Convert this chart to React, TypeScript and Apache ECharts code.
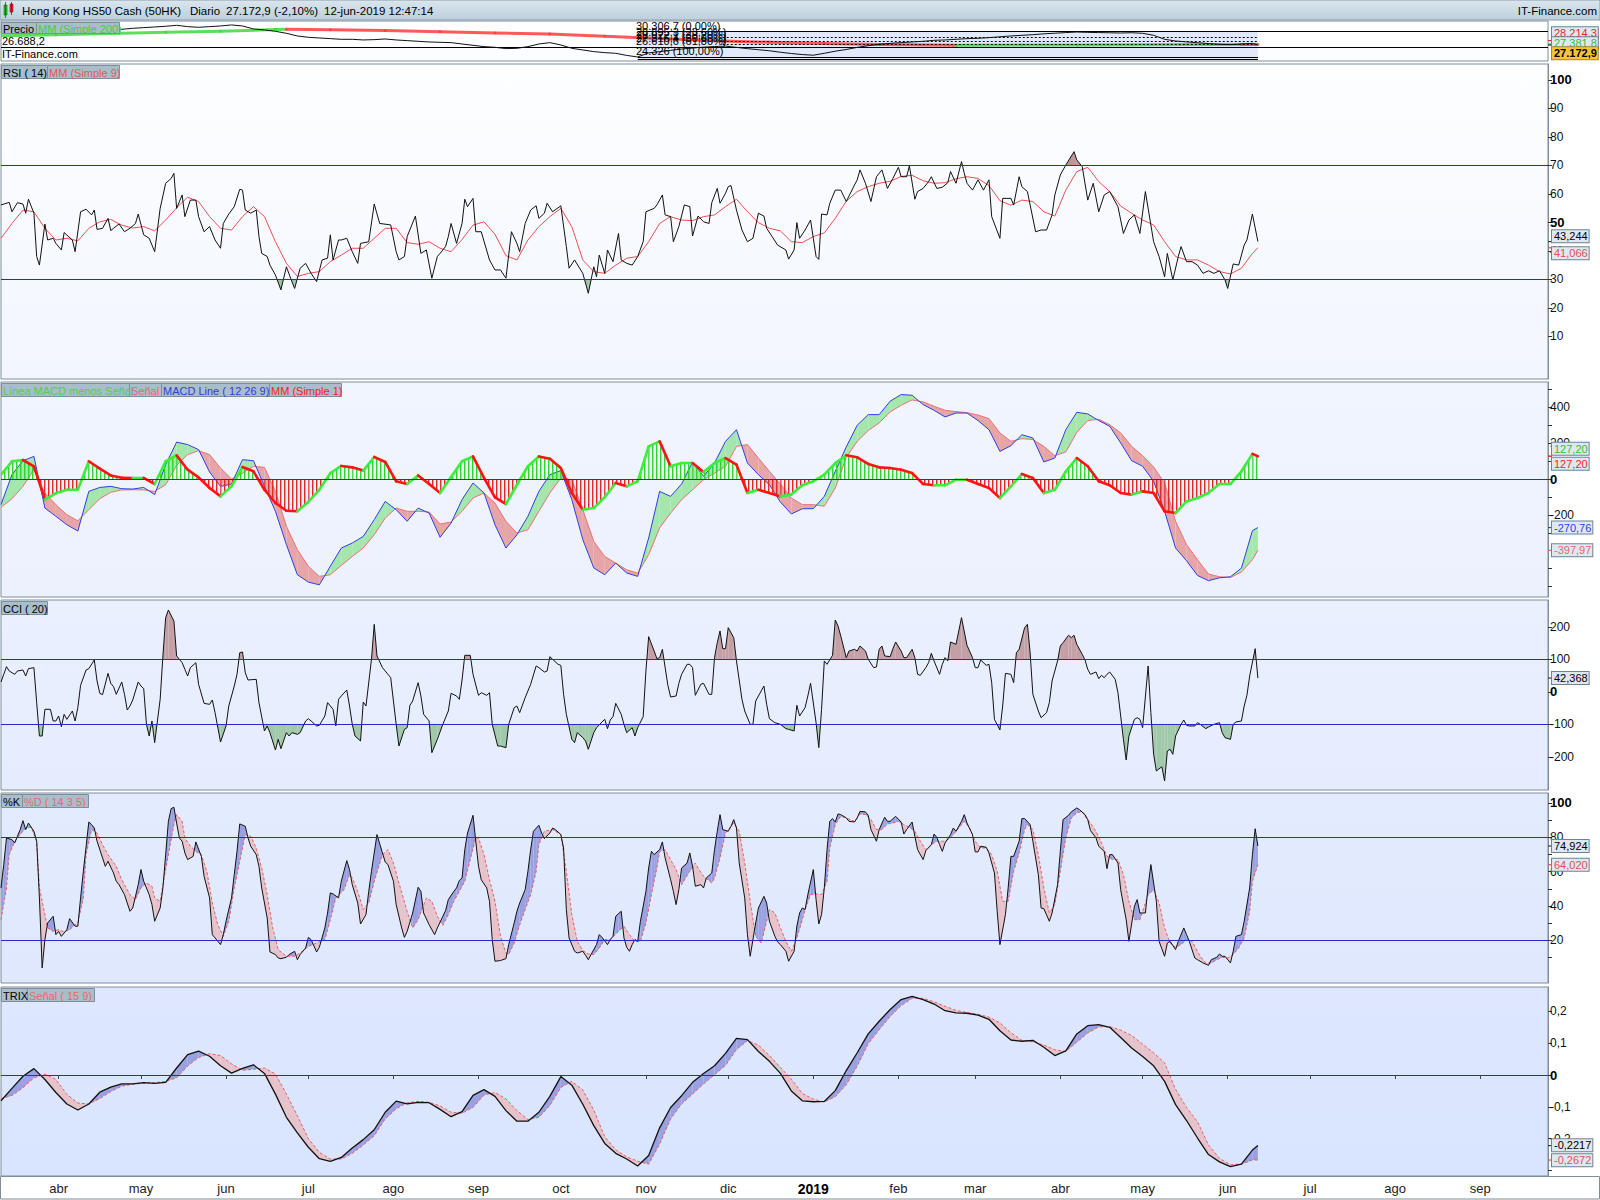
import React, { useEffect, useRef } from 'react';
import * as echarts from 'echarts';

const FONT = '"Liberation Sans", Arial, Helvetica, sans-serif';
const DAY = 86400000;

// ---------- sampling dates (every 4 calendar days, plus the last session) ----------
const dates: string[] = [
  '2018-03-11','2018-03-15','2018-03-19','2018-03-23','2018-03-27','2018-03-31','2018-04-04','2018-04-08','2018-04-12','2018-04-16',
  '2018-04-20','2018-04-24','2018-04-28','2018-05-02','2018-05-06','2018-05-10','2018-05-14','2018-05-18','2018-05-22','2018-05-26',
  '2018-05-30','2018-06-03','2018-06-07','2018-06-11','2018-06-15','2018-06-19','2018-06-23','2018-06-27','2018-07-01','2018-07-05',
  '2018-07-09','2018-07-13','2018-07-17','2018-07-21','2018-07-25','2018-07-29','2018-08-02','2018-08-06','2018-08-10','2018-08-14',
  '2018-08-18','2018-08-22','2018-08-26','2018-08-30','2018-09-03','2018-09-07','2018-09-11','2018-09-15','2018-09-19','2018-09-23',
  '2018-09-27','2018-10-01','2018-10-05','2018-10-09','2018-10-13','2018-10-17','2018-10-21','2018-10-25','2018-10-29','2018-11-02',
  '2018-11-06','2018-11-10','2018-11-14','2018-11-18','2018-11-22','2018-11-26','2018-11-30','2018-12-04','2018-12-08','2018-12-12',
  '2018-12-16','2018-12-20','2018-12-24','2018-12-28','2019-01-01','2019-01-05','2019-01-09','2019-01-13','2019-01-17','2019-01-21',
  '2019-01-25','2019-01-29','2019-02-02','2019-02-06','2019-02-10','2019-02-14','2019-02-18','2019-02-22','2019-02-26','2019-03-02',
  '2019-03-06','2019-03-10','2019-03-14','2019-03-18','2019-03-22','2019-03-26','2019-03-30','2019-04-03','2019-04-07','2019-04-11',
  '2019-04-15','2019-04-19','2019-04-23','2019-04-27','2019-05-01','2019-05-05','2019-05-09','2019-05-13','2019-05-17','2019-05-21',
  '2019-05-25','2019-05-29','2019-06-02','2019-06-06','2019-06-10','2019-06-12',
];
const START = '2018-03-11'; // day 0 of the finer [day, value] readings below

const price = [
  31110, 30874, 31347, 30637, 30480, 30874, 31032, 30874, 31347, 31190,
  31032, 30874, 31110, 31268, 31426, 31584, 31820, 31505, 31347, 31505,
  31663, 31899, 31663, 30953, 30716, 30401, 29928, 29298, 28982, 28825,
  28667, 28509, 28509, 28352, 28431, 28588, 28352, 28194, 28036, 27879,
  27800, 27721, 27406, 27091, 26776, 26618, 26303, 26382, 26776, 27406,
  27721, 27170, 26382, 25988, 25594, 25357, 25200, 24700, 24326, 25300,
  25600, 25900, 26200, 26450, 26650, 26800, 26900, 26600, 26300, 26050,
  25800, 25450, 25150, 24900, 24750, 25200, 25700, 26100, 26600, 27000,
  27330, 27550, 27721, 27879, 28036, 28273, 28352, 28509, 28667, 28746,
  28900, 29100, 29300, 29450, 29600, 29800, 29950, 30100, 30230, 30150,
  30100, 30050, 30000, 30070, 29928, 29455, 28509, 28110, 27900, 27700,
  27500, 27327, 27249, 27406, 27560, 27172.9,
];

const maDates = [
  '2018-03-11','2018-03-31','2018-04-20','2018-05-10','2018-05-30','2018-06-19','2018-06-23','2018-07-09','2018-07-29','2018-08-18',
  '2018-09-07','2018-09-27','2018-10-17','2018-11-06','2018-11-26','2018-12-16','2019-01-05','2019-01-25','2019-02-22','2019-03-18',
  '2019-04-07','2019-04-27','2019-05-17','2019-06-06','2019-06-12',
];
const priceMA200 = [
  29350, 29610, 29880, 30190, 30440, 30800, 30870, 30780, 30570, 30320,
  30020, 29740, 29250, 28700, 28150, 27800, 27500, 27300, 27085, 27140,
  27190, 27240, 27266, 27276, 27262,
];

const fibStart = '2018-10-29';
const fibDotStart = '2018-11-29';
const fibLevels = [30306.7, 28895.3, 28022.1, 27316.4, 26610.6, 24326];
const fibTexts = ['30.306,7 (0,00%)', '28.895,3 (23,60%)', '28.022,1 (38,20%)', '27.316,4 (50,00%)', '26.610,6 (61,80%)', '24.326 (100,00%)'];
const fibBoxBottom = 23780;
const supportLevel = 26688.2;
const priceTagLevels = [28214.3, 27381.8];

// RSI(14): [days since START, value]
const rsiDaily: [number, number][] = [
  [0,56.1],[3,57.0],[4,53.7],[6,56.9],[8,56.4],[9,53.2],[10,58.1],[12,53.2],[13,38.0],[14,35.0],
  [16,49.4],[17,43.8],[19,44.4],[20,42.6],[22,40.3],[23,46.4],[26,43.8],[27,39.7],[29,53.7],[31,54.6],
  [33,52.6],[34,54.3],[35,47.5],[37,47.9],[39,51.4],[40,47.1],[41,47.9],[43,49.4],[45,46.7],[47,47.9],
  [49,49.6],[50,52.9],[52,45.6],[54,44.4],[56,39.7],[58,54.9],[60,63.7],[62,65.4],[63,67.2],[64,54.9],
  [66,59.6],[67,52],[69,57.8],[71,57.8],[72,52],[74,46.7],[76,48.5],[78,43.8],[80,40.9],[81,49.6],
  [83,52.9],[85,55.5],[87,61.6],[88,61.3],[89,54.3],[91,53.2],[93,54.3],[94,45],[95,39.1],[97,38],
  [98,35],[100,31.5],[102,26.3],[104,34.4],[106,29.2],[107,26.8],[109,33.9],[111,35.6],[113,32.1],[115,29.2],
  [117,36.8],[119,37.4],[120,45.6],[121,36.8],[123,43.8],[124,43.8],[126,44.4],[128,39.7],[130,35.6],[131,42.6],
  [134,43.2],[136,56.4],[138,49.6],[142,49.1],[144,39.7],[145,36.8],[147,38],[148,45],[151,52.2],[153,39.1],
  [155,40.3],[157,30.4],[159,38],[160,39.1],[162,41.5],[163,45],[164,49.6],[166,42.6],[168,49.6],[169,58.1],
  [170,55.5],[172,58.4],[173,46.7],[175,46.7],[178,36.8],[180,33.3],[182,33.3],[184,30.4],[186,46.7],[188,42.6],
  [189,39.7],[191,49.6],[193,54.3],[195,55.8],[196,51.4],[198,53.2],[199,56.7],[201,53.7],[204,55.8],[206,41.5],
  [207,33.9],[209,36.8],[212,32.1],[214,25.1],[216,34.4],[217,30.9],[218,38.5],[220,32.1],[221,40.3],[223,36.2],
  [225,46.1],[226,36.8],[228,35.6],[230,35],[232,38],[234,43.2],[235,53.7],[238,54.9],[239,56.1],[241,59.6],
  [242,52.6],[244,52],[245,43.2],[247,48.5],[249,56.1],[251,55.5],[252,45.2],[254,52.2],[256,50.2],[258,49.6],
  [259,56.9],[261,61.9],[262,56.7],[264,60.2],[265,62.5],[266,62.9],[268,54.3],[270,47.3],[272,43.2],[274,44.4],
  [276,53.2],[278,52.2],[279,47.9],[281,45],[283,42],[286,40.3],[287,37.1],[289,40.3],[290,49.9],[291,44.4],
  [293,47.3],[295,50.8],[296,44.4],[297,38],[298,37],[299,52.9],[301,52.6],[302,56.7],[304,61.3],[306,61.3],
  [308,57.3],[311,63.1],[312,64.9],[313,68.4],[315,63.7],[317,57.3],[319,66],[321,68.4],[323,61.9],[325,65.4],
  [327,69.3],[328,66],[330,66],[331,69.8],[333,58.1],[334,60.8],[336,61.9],[338,64.3],[339,66],[341,61.9],
  [343,62.3],[345,63.9],[346,67.8],[348,63.7],[350,71.3],[351,67.2],[352,63.7],[354,61.3],[356,64.9],[358,61.3],
  [360,64.9],[361,52],[364,44.4],[365,58.4],[368,58.4],[369,56.1],[371,66],[372,62.5],[374,60.8],[377,46.7],
  [379,47.3],[381,47.3],[383,52.6],[384,59.6],[386,66.6],[388,70.1],[391,74.8],[392,71.9],[394,69.5],[396,57.8],
  [398,63.7],[400,53.7],[402,59.6],[404,60.8],[407,55.5],[409,46.1],[411,50.8],[413,52.6],[415,46.1],[417,60.8],
  [420,43.2],[422,38],[424,30.9],[425,39.1],[427,29.8],[429,38],[430,41.5],[432,36.2],[434,36.2],[436,35],
  [438,32.1],[440,33],[442,32.1],[444,33],[446,29.8],[447,26.8],[449,35.4],[451,35],[453,42],[454,43.8],
  [456,52.9],[458,43.244],
];
const rsiMA = [
  44.4, 49.6, 54.3, 53.7, 47.9, 43.8, 44.4, 43.5, 47.9, 50.2,
  51, 49, 48, 48.5, 47, 50.8, 55.1, 58.8, 57.3, 52,
  47.9, 47.3, 52, 55.5, 52, 43.2, 35.6, 31, 32.1, 32.7,
  36.2, 38.5, 40.9, 40.9, 44.4, 47.9, 47.9, 42.9, 42.3, 43.2,
  40.9, 39.7, 44, 49, 50.2, 45.8, 38.3, 36.8, 43.8, 48.5,
  52, 54.9, 48.5, 36.8, 32.7, 32.1, 35, 37.4, 38, 43.2,
  49.6, 52, 50.8, 50.6, 52, 52.6, 55.5, 58.1, 53.7, 49.9,
  47.9, 47, 43.2, 42.9, 45, 46.3, 51.4, 57.4, 60.8, 62.5,
  63.7, 64.4, 66.1, 66.5, 64.6, 63.7, 63.9, 65.3, 66, 65.4,
  62.9, 57.6, 56, 57.8, 57.3, 53.7, 52.2, 61.3, 67.8, 69.3,
  64.3, 60.8, 55.7, 53.2, 50.8, 49.1, 43.2, 38, 36.8, 36.8,
  35, 32.7, 31.9, 33.9, 39.1, 41.066,
];

const macdLine = [
  -143, 24, 102, 126, -162, -208, -255, -290, -69, -47,
  -41, -54, -56, -47, -87, 80, 206, 192, 164, 39,
  -41, -28, 108, 102, -41, -180, -366, -534, -575, -590,
  -487, -385, -357, -320, -227, -125, -171, -236, -162, -190,
  -325, -246, -115, -22, -78, -255, -385, -311, -208, -69,
  24, 47, -115, -338, -496, -534, -469, -524, -543, -329,
  -69, -97, -28, 95, 15, 89, 210, 275, 89, 24,
  -32, -128, -195, -166, -165, -97, 43, 179, 300, 359,
  359, 434, 471, 467, 415, 383, 346, 368, 368, 326,
  275, 154, 186, 247, 229, 95, 117, 275, 372, 363,
  326, 294, 201, 102, 71, -13, -180, -385, -456, -538,
  -567, -551, -545, -497, -288, -270.76,
];
const macdSignal = [
  -158, -110, -41, 52, -78, -143, -199, -233, -171, -110,
  -74, -61, -60, -61, -69, -32, 76, 136, 158, 136,
  61, 0, 33, 71, 65, -69, -264, -394, -487, -543,
  -534, -482, -432, -385, -311, -218, -162, -180, -180, -184,
  -251, -240, -180, -106, -78, -134, -236, -301, -283, -180,
  -78, 6, -4, -171, -348, -432, -469, -506, -525, -422,
  -273, -190, -115, -60, -4, 33, 71, 182, 192, 117,
  43, -28, -106, -143, -143, -152, -50, 121, 210, 270,
  313, 374, 411, 441, 430, 406, 383, 376, 370, 357,
  337, 257, 210, 225, 220, 182, 130, 151, 260, 326,
  333, 303, 257, 182, 130, 67, -22, -236, -366, -450,
  -530, -545, -549, -519, -450, -397.97,
];
const macdHist = [
  24, 99, 106, 71, -115, -80, -60, -60, 99, 58,
  20, 7, 6, 6, -28, 99, 132, 52, 9, -50,
  -97, -41, 67, 43, -60, -134, -177, -180, -128, -60,
  33, 73, 65, 47, 123, 95, -13, -28, 20, -28,
  -78, 11, 99, 126, 6, -102, -140, -32, 71, 126,
  113, 61, -78, -171, -162, -102, -22, -41, -13, 182,
  210, 71, 89, 89, 39, 89, 117, 80, -78, -60,
  -78, -97, -87, -35, -13, 24, 89, 132, 121, 84,
  65, 61, 52, 33, -28, -35, -35, -4, -4, -28,
  -50, -106, -41, 28, 6, -78, -60, 43, 117, 71,
  -13, -35, -78, -87, -69, -78, -180, -190, -125, -106,
  -78, -28, -28, 43, 140, 127.2,
];

// CCI(20): [days since START, value]
const cciDaily: [number, number][] = [
  [0,30.3],[1,53.8],[2,77.4],[3,64.1],[5,53.8],[6,64.1],[8,67.2],[9,48.7],[10,71.3],[12,74.4],
  [13,-33.3],[14,-135.9],[15,-135.9],[16,-53.8],[18,-53.8],[19,-89.7],[20,-89.7],[21,-74.4],[22,-107.2],[23,-69.2],
  [24,-84.6],[26,-59],[27,-89.7],[28,-48.7],[29,20],[31,67.2],[32,71.3],[34,97.9],[35,33.3],[36,-4.6],
  [37,-8.7],[39,56.9],[40,26.2],[41,15.9],[42,-7.7],[44,30.3],[45,-7.7],[46,-55.9],[47,-43.6],[48,-25.1],
  [50,30.3],[51,17.9],[52,9.7],[53,-100],[54,-135.9],[55,-89.7],[56,-156.4],[58,-23.1],[59,110.3],[60,228.2],
  [61,251.8],[63,217.9],[64,110.3],[66,89.7],[67,69.2],[68,48.7],[69,74.4],[71,89.7],[72,23.1],[74,-35.4],
  [76,-38.5],[77,-25.1],[78,-64.1],[80,-154.4],[82,-105.1],[83,-43.6],[85,17.9],[86,53.8],[87,120.5],[88,122.6],
  [89,59],[90,36.4],[93,38.5],[94,-33.3],[96,-120.5],[97,-105.1],[98,-125.6],[100,-179],[101,-146.2],[102,-174.9],
  [104,-125.6],[105,-135.9],[106,-125.6],[108,-130.8],[109,-125.6],[111,-89.7],[112,-82.6],[113,-89.7],[115,-105.1],[116,-103.1],
  [118,-74.4],[119,-33.3],[121,-53.8],[122,-105.1],[123,-23.1],[124,-12.8],[126,5.6],[127,-43.6],[128,-100],[129,-135.9],
  [131,-151.3],[132,-31.3],[133,-43.6],[135,100],[136,207.7],[137,110.3],[139,74.4],[141,53.8],[142,43.6],[144,-100],
  [145,-166.7],[147,-115.4],[148,-110.3],[149,-41.5],[150,-28.2],[152,28.2],[153,-12.8],[154,-69.2],[156,-89.7],[157,-187.2],
  [159,-146.2],[161,-100],[163,-59],[164,-4.6],[166,-12.8],[167,-23.1],[168,36.4],[169,112.3],[171,112.3],[172,53.8],
  [174,-10.8],[175,-2.6],[177,-10.8],[178,-2.6],[179,-100],[181,-166.7],[182,-166.7],[184,-171.8],[185,-100],[187,-48.7],
  [188,-43.6],[189,-64.1],[191,-17.9],[193,23.1],[195,79.5],[196,74.4],[198,61],[199,64.1],[200,108.2],[201,100],
  [203,84.6],[204,81.5],[205,-7.7],[206,-69.2],[208,-146.2],[209,-156.4],[210,-125.6],[212,-141],[213,-151.3],[214,-176.9],
  [216,-125.6],[217,-110.3],[219,-92.8],[220,-84.6],[221,-113.3],[222,-86.7],[223,-76.4],[224,-35.4],[226,-69.2],[227,-100],
  [228,-125.6],[230,-110.3],[231,-135.9],[232,-110.3],[234,-76.4],[235,64.1],[236,169.7],[238,125.6],[239,102.1],[240,105.1],
  [241,130.8],[243,20],[244,-15.9],[246,-12.8],[247,26.2],[248,53.8],[250,84.6],[251,84.6],[252,74.4],[253,-10.8],
  [255,23.1],[256,26.2],[258,-7.7],[259,-7.7],[260,105.1],[261,151.3],[262,187.2],[263,132.8],[264,132.8],[265,197.4],
  [267,166.7],[268,94.9],[270,-23.1],[271,-59],[273,-100],[274,-100],[275,-28.2],[277,2.6],[278,17.9],[279,-38.5],
  [280,-82.6],[282,-94.9],[284,-100],[286,-113.3],[287,-115.4],[289,-120.5],[290,-41.5],[291,-74.4],[293,-48.7],[294,-12.8],
  [295,26.2],[297,-94.9],[298,-171.8],[299,-53.8],[300,94.9],[301,84.6],[303,112.3],[304,221],[305,202.6],[306,171.8],
  [308,105.1],[309,125.6],[311,130.8],[312,125.6],[313,141],[315,125.6],[316,100],[318,74.4],[319,76.4],[320,130.8],
  [321,141],[322,110.3],[324,108.2],[325,132.8],[326,153.3],[328,125.6],[329,105.1],[330,105.1],[332,130.8],[333,105.1],
  [334,53.8],[335,50.8],[337,74.4],[338,89.7],[339,118.5],[340,94.9],[342,53.8],[343,84.6],[344,105.1],[345,94.9],
  [346,153.3],[348,146.2],[350,228.2],[352,143.1],[354,105.1],[355,74.4],[356,74.4],[357,97.9],[359,81.5],[360,84.6],
  [361,28.2],[362,-84.6],[364,-117.4],[365,-43.6],[366,56.9],[368,53.8],[369,28.2],[370,120.5],[371,130.8],[373,197.4],
  [374,207.7],[375,120.5],[376,-7.7],[378,-59],[379,-79.5],[381,-64.1],[382,-33.3],[383,33.3],[385,94.9],[386,141],
  [387,151.3],[389,174],[390,166.7],[391,174],[392,146.2],[394,115.4],[395,97.9],[396,69.2],[397,53.8],[399,61],
  [400,40.5],[401,50.8],[402,43.6],[403,53.8],[404,61],[406,38.5],[407,-2.6],[409,-146.2],[410,-209.7],[411,-135.9],
  [413,-84.6],[414,-79.5],[415,-84.6],[416,-110.3],[418,79.5],[419,-64.1],[420,-192.3],[421,-243.6],[423,-230.3],[424,-274.4],
  [425,-182.1],[426,-176.9],[427,-192.3],[428,-135.9],[430,-100],[431,-86.7],[432,-103.1],[433,-105.1],[435,-105.1],[436,-94.9],
  [437,-100],[439,-113.3],[440,-108.2],[442,-100],[444,-94.9],[445,-125.6],[446,-141],[448,-146.2],[449,-100],[450,-92.8],
  [452,-89.7],[453,-43.6],[454,-10.8],[455,48.7],[457,132.8],[458,42.368],
];

// Stochastic %K and %D ( 14 3 5): [days since START, value]
const stochKDaily: [number, number][] = [
  [0,50.5],[1,64.1],[2,79.6],[4,78.6],[5,76.7],[6,80.6],[7,84.5],[8,89.7],[9,84.5],[10,88.3],
  [12,83.5],[13,77.7],[14,44.7],[15,3.9],[16,20.4],[17,30.1],[19,34],[20,23.3],[21,25.2],[22,22.3],
  [24,26.2],[25,32.6],[27,28.2],[28,28.2],[29,44.7],[30,60.2],[32,88.9],[33,87.4],[34,85.4],[35,77.7],
  [37,68],[38,63.1],[39,66],[41,59.2],[42,54.4],[43,52.4],[45,46.6],[46,41.7],[47,36.9],[48,38.8],
  [50,52.4],[51,61.2],[52,54.4],[54,46.6],[55,40.8],[56,31.1],[58,38.8],[59,50.5],[60,69.9],[61,89.3],
  [62,96.7],[63,97.5],[64,88.3],[65,79.6],[66,77.7],[67,70.9],[68,67],[70,68.9],[71,77.3],[73,68.9],
  [74,57.3],[76,44.7],[77,23.3],[78,21.4],[80,17.5],[81,23.3],[82,31.1],[84,44.7],[85,58.3],[86,71.8],
  [87,87.8],[89,86.4],[90,79.6],[91,74.8],[93,69.9],[94,63.1],[95,50.5],[97,33],[98,13.2],[100,11.7],
  [101,9.7],[102,9.3],[104,10.1],[105,11.7],[107,13.6],[108,8.7],[109,11.7],[111,15.5],[112,21.7],[113,20.4],
  [115,13.2],[116,15.9],[118,27.2],[119,35.9],[120,47.6],[121,47],[123,44.7],[124,54.4],[126,66.4],[127,61.2],
  [128,52.4],[130,41.7],[131,29.5],[133,35],[134,48.5],[135,60.2],[137,81.6],[139,70.9],[140,65.6],[141,64.1],
  [143,54.4],[144,40.8],[146,27.2],[147,21.7],[148,25.2],[150,35.9],[152,50.9],[153,48.5],[154,35.9],[156,29.1],
  [158,23.3],[159,27.2],[161,34],[162,37.3],[163,43.7],[165,48.5],[166,50.5],[167,54.8],[168,56.3],[169,72.8],
  [170,82.5],[172,92.8],[173,77.7],[174,63.1],[175,55.3],[177,50.5],[178,42.7],[179,20.4],[180,7.8],[182,8.2],
  [184,9.3],[185,17.5],[187,30.1],[188,36.9],[189,41.7],[191,49.5],[192,60.2],[193,72.8],[194,83.5],[196,87],
  [197,82.5],[198,79.2],[200,82.5],[201,85.4],[202,84.5],[204,81.6],[205,73.8],[206,37.9],[207,21.4],[209,13.6],
  [210,12.6],[212,13.6],[213,11.3],[214,8.7],[215,11.7],[217,17.5],[218,23.3],[219,21.7],[221,17.5],[222,20.4],
  [223,22.3],[224,34],[226,36.9],[227,21.4],[228,15.9],[229,13.6],[230,17.5],[231,20.4],[232,19.4],[233,31.1],
  [235,48.5],[236,62.1],[237,71.8],[238,69.9],[240,72.8],[241,77.3],[242,68],[244,55.3],[245,48.5],[246,40.8],
  [247,49.5],[248,62.1],[250,65],[251,70.9],[252,63.1],[253,51.5],[255,52.4],[256,50.5],[257,56.3],[259,59.2],
  [260,72.8],[261,83.5],[262,93.2],[263,84.5],[265,83.5],[266,86.4],[267,90.3],[268,85.4],[269,65],[271,44.7],
  [272,23.3],[273,10.7],[275,30.1],[276,38.8],[278,45.6],[279,41.7],[280,31.1],[282,22.3],[283,19],[284,17.5],
  [286,13.6],[287,7.8],[289,13.6],[290,28.2],[291,35.9],[292,38.8],[293,37.9],[294,46.6],[296,61.2],[297,43.7],
  [298,29.5],[299,35],[300,50.5],[301,72.8],[302,89.3],[303,90.9],[304,88.9],[305,93.6],[306,93.2],[308,91.3],
  [309,89.3],[311,88.9],[312,91.3],[313,95.1],[315,94.8],[316,92.8],[317,84.5],[319,77.7],[320,84.5],[322,91.7],
  [323,89.3],[324,89.3],[326,92.2],[328,88.9],[329,81.9],[330,84.5],[332,88.9],[333,80.6],[334,72.8],[336,67],
  [337,72.2],[339,75.7],[340,81.9],[341,80],[342,75.7],[343,71.8],[344,76.7],[346,81.6],[347,85.4],[348,83.5],
  [350,89.3],[351,93.2],[352,88.3],[354,81.6],[355,71.5],[356,71.5],[357,74.8],[359,74.2],[360,70.9],[362,59.2],
  [363,36.9],[364,17.5],[366,35],[367,50.5],[368,68.9],[369,68.9],[371,77.7],[372,90.9],[373,90.9],[375,87.4],
  [376,77.7],[378,58.3],[379,38.8],[380,38.4],[382,31.1],[383,35.9],[385,52.4],[386,71.8],[387,90.3],[389,92.8],
  [390,94.8],[392,97.1],[393,96.1],[395,93.2],[396,90.3],[397,83.9],[399,79.6],[400,74.8],[402,71.8],[403,61.7],
  [404,69.9],[405,69.9],[407,65],[408,49.5],[410,32],[411,19.4],[413,39.8],[414,43.7],[415,35.9],[417,35.9],
  [418,51.5],[419,64.1],[421,42.7],[422,19.4],[424,10.7],[425,18.4],[426,19.4],[428,14.6],[429,19.4],[431,27.2],
  [432,23.3],[433,19.4],[435,9.7],[436,8.7],[438,6.8],[440,5.4],[441,8.7],[443,10.1],[444,12],[445,10.7],
  [446,10.7],[448,6.8],[449,13.6],[450,22.3],[452,23.3],[453,31.1],[455,50.5],[456,69.9],[457,85],[458,74.924],
];
const stochDDaily: [number, number][] = [
  [0,32],[2,50.5],[3,69.9],[5,77.7],[7,81.6],[9,85.4],[11,85.8],[13,77.7],[14,50.5],[16,35],
  [17,27.2],[19,25.2],[21,26.2],[23,24.9],[25,26.2],[27,29.1],[28,30.1],[30,44.7],[31,69.9],[33,84.5],
  [35,82.5],[37,75.7],[39,69.9],[42,63.1],[44,55.3],[47,46.6],[49,43.7],[51,50.5],[53,53.4],[55,51.5],
  [56,44.7],[58,42.7],[59,52.4],[61,69.9],[63,87.4],[64,93.2],[66,89.3],[67,79.6],[69,74.8],[71,71.8],
  [73,69.9],[75,60.2],[77,41.7],[79,29.1],[81,22.3],[83,31.1],[85,50.5],[87,66],[89,81.6],[91,80.6],
  [93,73.8],[95,62.1],[97,46.6],[99,27.2],[101,14.6],[104,10.7],[107,10.7],[109,12.6],[112,16.5],[115,18.4],
  [118,20.4],[120,32],[122,44.7],[125,49.5],[127,58.3],[128,56.3],[130,48.5],[132,37.9],[134,41.7],[136,54.4],
  [139,69.9],[141,72.8],[143,65],[145,53.4],[148,36.9],[150,27.2],[152,32],[155,44.7],[157,42.7],[159,34],
  [161,28.7],[163,35],[165,42.7],[167,48.5],[169,54.4],[171,67],[173,79.6],[174,79.6],[176,69.9],[178,55.3],
  [180,42.7],[182,22.3],[184,12.6],[185,11.7],[187,18.4],[189,29.1],[191,37.9],[193,46.6],[195,60.2],[196,75.7],
  [198,83.5],[201,84.5],[202,83.5],[204,81.6],[206,60.2],[208,35],[210,19.4],[212,14],[214,12],[216,11.7],
  [218,15.5],[220,20.4],[222,20.4],[225,25.2],[227,28.2],[229,23.3],[231,19.4],[233,19.4],[235,30.1],[237,46.6],
  [239,62.1],[240,71.8],[242,72.8],[244,67],[246,61.2],[248,52.4],[251,60.2],[253,65],[254,62.1],[256,57.3],
  [259,53.4],[260,56.3],[262,68],[264,82.5],[266,86.4],[267,88.3],[269,83.5],[271,65],[273,42.7],[275,22.3],
  [277,18.4],[279,31.1],[280,37.9],[282,35.9],[284,27.2],[286,19.4],[288,13.6],[290,21.4],[292,32],
  [293,37.9],[295,46.6],[297,47],[299,46.6],[301,54.4],[302,73.8],[304,87.4],[306,92.2],[308,91.3],[311,89.3],
  [313,93.6],[315,93.2],[317,90.3],[319,84.5],[321,84.5],[323,87.8],[325,88.3],[327,89.3],[329,87.4],[331,85.8],
  [333,83.5],[335,77.7],[337,72.8],[339,75.7],[341,77.7],[344,77.7],[346,79.6],[349,85.4],[351,89.3],[353,85.4],
  [355,77.7],[357,73.8],[359,73.8],[361,69.9],[363,60.2],[365,42.7],[367,42.7],[369,60.2],[371,70.9],[373,84.5],
  [374,87.4],[376,84.5],[378,69.9],[380,50.5],[382,35.9],[384,40.8],[386,60.2],[388,79.6],[390,91.3],[392,94.2],
  [394,95.1],[395,92.2],[397,88.3],[399,83.5],[401,76.7],[403,68.9],[405,67],[407,67],[409,58.3],[411,42.7],
  [413,32],[415,32],[416,36.9],[418,46.6],[420,49.5],[422,41.7],[424,27.2],[426,18.4],[428,15.9],[430,17.5],
  [432,20.4],[434,19.4],[436,13.6],[437,10.7],[439,6.8],[441,6.8],[443,8.7],[445,10.1],[447,9.7],[449,11.7],
  [451,15.5],[453,21.4],[455,36.9],[456,54.4],[458,64.02],
];

const trix = [
  -0.081, -0.042, -0.004, 0.020, -0.014, -0.055, -0.091, -0.110, -0.091, -0.054,
  -0.038, -0.028, -0.028, -0.024, -0.026, -0.023, 0.022, 0.064, 0.075, 0.059,
  0.029, 0.006, 0.021, 0.032, 0.005, -0.060, -0.133, -0.182, -0.227, -0.263,
  -0.271, -0.259, -0.229, -0.203, -0.172, -0.117, -0.082, -0.091, -0.086, -0.087,
  -0.108, -0.131, -0.115, -0.064, -0.046, -0.067, -0.112, -0.145, -0.145, -0.117,
  -0.067, -0.005, -0.032, -0.092, -0.159, -0.215, -0.246, -0.264, -0.286, -0.253,
  -0.166, -0.102, -0.065, -0.023, 0.005, 0.029, 0.068, 0.115, 0.111, 0.074,
  0.043, 0.005, -0.050, -0.081, -0.084, -0.083, -0.049, 0.014, 0.070, 0.129,
  0.169, 0.206, 0.237, 0.247, 0.237, 0.223, 0.202, 0.195, 0.194, 0.188,
  0.175, 0.139, 0.110, 0.106, 0.109, 0.087, 0.061, 0.076, 0.129, 0.155,
  0.158, 0.150, 0.118, 0.085, 0.058, 0.029, -0.020, -0.093, -0.143, -0.198,
  -0.250, -0.273, -0.288, -0.280, -0.236, -0.2217,
];
const trixSignal = [
  -0.075, -0.064, -0.040, -0.009, 0.003, -0.014, -0.061, -0.088, -0.091, -0.074,
  -0.052, -0.035, -0.029, -0.026, -0.024, -0.020, -0.009, 0.028, 0.055, 0.067,
  0.061, 0.035, 0.015, 0.018, 0.022, 0.003, -0.060, -0.128, -0.200, -0.243,
  -0.264, -0.264, -0.246, -0.220, -0.191, -0.138, -0.106, -0.087, -0.083, -0.086,
  -0.097, -0.117, -0.120, -0.102, -0.063, -0.055, -0.075, -0.112, -0.140, -0.133,
  -0.096, -0.039, -0.020, -0.047, -0.110, -0.194, -0.235, -0.257, -0.271, -0.280,
  -0.217, -0.138, -0.091, -0.060, -0.028, 0.001, 0.030, 0.080, 0.108, 0.094,
  0.061, 0.024, -0.013, -0.058, -0.076, -0.085, -0.068, -0.031, 0.028, 0.098,
  0.142, 0.184, 0.218, 0.241, 0.241, 0.230, 0.216, 0.203, 0.196, 0.191,
  0.182, 0.164, 0.133, 0.109, 0.104, 0.094, 0.079, 0.074, 0.103, 0.132,
  0.151, 0.152, 0.141, 0.124, 0.097, 0.070, 0.038, -0.045, -0.102, -0.147,
  -0.220, -0.262, -0.282, -0.280, -0.267, -0.2672,
];

const monthTicks = [
  '2018-04-01','2018-05-01','2018-06-01','2018-07-01','2018-08-01','2018-09-01','2018-10-01','2018-11-01','2018-12-01',
  '2019-01-01','2019-02-01','2019-03-01','2019-04-01','2019-05-01','2019-06-01','2019-07-01','2019-08-01','2019-09-01',
];
const MONTHS = ['ene','feb','mar','abr','may','jun','jul','ago','sep','oct','nov','dic'];

const GRIDS = [
  { top: 21, height: 40, min: 23380, max: 32836 },
  { top: 64, height: 315, min: -4.97, max: 105.55 },
  { top: 382, height: 215, min: -658, max: 541 },
  { top: 600, height: 190, min: -302, max: 282.5 },
  { top: 793, height: 190, min: -4.87, max: 105.8 },
  { top: 987, height: 189, min: -0.3173, max: 0.2765 },
];
const BG = [
  ['#ffffff', '#fbfcff'], ['#fdfeff', '#f2f6fe'], ['#f1f5fe', '#ecf1fe'],
  ['#eaf0fe', '#e5ecfe'], ['#e4ebfe', '#dfe8fe'], ['#dee7fe', '#d9e4fe'],
];

const toTime = (s: string) => {
  const [y, m, d] = s.split('-').map(Number);
  return new Date(y, m - 1, d).getTime();
};
const fmtDec = (v: number, d: number) => v.toFixed(d).replace('.', ',');
const fmtPrice = (v: number) => {
  const [a, b] = v.toFixed(1).split('.');
  return a.replace(/\B(?=(\d{3})+(?!\d))/g, '.') + ',' + b;
};
const last = (a: number[]) => a[a.length - 1];

export default function App() {
  const ref = useRef<HTMLDivElement>(null);

  useEffect(() => {
    const el = ref.current as HTMLDivElement;
    const chart = echarts.init(el, null, { renderer: 'svg' });
    const xMin = toTime(START);
    const xMax = new Date(2019, 8, 25, 17).getTime();
    const T = dates.map(toTime);
    const TM = maDates.map(toTime);
    const monthT = monthTicks.map(toTime);
    const lastT = T[T.length - 1];
    const split = (pairs: [number, number][]) => ({ t: pairs.map((p) => xMin + p[0] * DAY), v: pairs.map((p) => p[1]) });
    const R = split(rsiDaily);
    const C = split(cciDaily);
    const K = split(stochKDaily);
    const D = split(stochDDaily);

    // geometry for the fill between two polylines read at different dates
    const fillGeom = (tA: number[], a: number[], tB: number[], b: number[]) => {
      const lo = Math.max(tA[0], tB[0]);
      const hi = Math.min(tA[tA.length - 1], tB[tB.length - 1]);
      const xs = Array.from(new Set([...tA, ...tB])).filter((x) => x >= lo && x <= hi).sort((p, q) => p - q);
      const at = (t: number[], v: number[], x: number) => {
        let j = 0;
        while (j < t.length - 2 && t[j + 1] < x) j++;
        const f = (x - t[j]) / (t[j + 1] - t[j]);
        return v[j] + (v[j + 1] - v[j]) * f;
      };
      return { xs, A: xs.map((x) => at(tA, a, x)), B: xs.map((x) => at(tB, b, x)) };
    };
    const KD = fillGeom(K.t, K.v, D.t, D.v);

    const mkStripe = (color: string) => {
      const c = document.createElement('canvas');
      c.width = 4; c.height = 4;
      const g = c.getContext('2d') as CanvasRenderingContext2D;
      g.fillStyle = color; g.fillRect(0, 0, 1, 4);
      g.globalAlpha = 0.45; g.fillRect(1, 0, 1, 4);
      return { image: c, repeat: 'repeat' };
    };
    const greenStripe = mkStripe('#2fd42f');
    const redStripe = mkStripe('#e02a2a');

    const band = (k: number, a: number[], b: number[] | number, up: any, down: any, z = 1, t = T): any => ({
      type: 'custom', xAxisIndex: k, yAxisIndex: k, z, silent: true, clip: true,
      data: t.slice(0, -1).map((x, i) => [x, a[i]]),
      renderItem: (params: any, api: any) => {
        const i = params.dataIndex;
        const a0 = a[i], a1 = a[i + 1];
        const b0 = typeof b === 'number' ? b : b[i];
        const b1 = typeof b === 'number' ? b : b[i + 1];
        const pa0 = api.coord([t[i], a0]), pa1 = api.coord([t[i + 1], a1]);
        const pb0 = api.coord([t[i], b0]), pb1 = api.coord([t[i + 1], b1]);
        const d0 = a0 - b0, d1 = a1 - b1;
        const children: any[] = [];
        const poly = (pts: number[][], fill: any) => {
          if (fill) children.push({ type: 'polygon', shape: { points: pts }, style: { fill }, silent: true });
        };
        if (d0 * d1 < 0) {
          const f = d0 / (d0 - d1);
          const pc = [pa0[0] + (pa1[0] - pa0[0]) * f, pa0[1] + (pa1[1] - pa0[1]) * f];
          poly([pa0, pc, pb0], d0 > 0 ? up : down);
          poly([pc, pa1, pb1], d1 > 0 ? up : down);
        } else {
          poly([pa0, pa1, pb1, pb0], d0 + d1 >= 0 ? up : down);
        }
        return { type: 'group', children };
      },
    });

    const slopeLine = (k: number, a: number[], upC: string, downC: string, w: number, z = 4, t = T, op = 1): any => ({
      type: 'custom', xAxisIndex: k, yAxisIndex: k, z, silent: true, clip: true,
      data: t.slice(0, -1).map((x, i) => [x, a[i]]),
      renderItem: (params: any, api: any) => {
        const i = params.dataIndex;
        const p0 = api.coord([t[i], a[i]]), p1 = api.coord([t[i + 1], a[i + 1]]);
        return {
          type: 'line', silent: true,
          shape: { x1: p0[0], y1: p0[1], x2: p1[0], y2: p1[1] },
          style: { stroke: a[i + 1] >= a[i] ? upC : downC, lineWidth: w, lineCap: 'round', opacity: op },
        };
      },
    });

    const line = (k: number, a: number[], color: string, width = 1, type: any = 'solid', z = 3, extra: any = {}, t = T): any => ({
      type: 'line', xAxisIndex: k, yAxisIndex: k, z, silent: true,
      data: a.map((v, i) => [t[i], v]), showSymbol: false, symbol: 'none',
      lineStyle: { color, width, type }, ...extra,
    });

    const hLines = (vals: number[]) => ({
      silent: true, symbol: ['none', 'none'], label: { show: false },
      lineStyle: { color: '#2a2ac6', width: 1.2, type: 'solid' },
      data: vals.map((v) => ({ yAxis: v })),
    });

    const yAx = (k: number, ticks: number[], labels: number[], bold: number[], fmt: (v: number) => string) => ({
      type: 'value', gridIndex: k, position: 'right', min: GRIDS[k].min, max: GRIDS[k].max,
      show: k !== 0, splitLine: { show: false },
      axisLine: { show: true, lineStyle: { color: '#7d8e9c' } },
      axisTick: { show: true, inside: false, length: 4, customValues: ticks, lineStyle: { color: '#333' } },
      axisLabel: {
        customValues: labels, margin: 2, color: '#111', fontSize: 12, fontFamily: FONT,
        formatter: (v: number) => (bold.includes(v) ? `{b|${fmt(v)}}` : fmt(v)),
        rich: { b: { fontWeight: 'bold', fontSize: 13, fontFamily: FONT, color: '#000' } },
      },
    });
    const plain = (v: number) => String(v);
    const comma = (v: number) => String(v).replace('.', ',');

    const option: any = {
      animation: false,
      backgroundColor: '#ffffff',
      textStyle: { fontFamily: FONT },
      grid: GRIDS.map((g, k) => ({
        left: 1, right: 52, top: g.top, height: g.height, show: true,
        borderColor: '#7d8e9c', borderWidth: 1,
        backgroundColor: new echarts.graphic.LinearGradient(0, 0, 0, 1, [
          { offset: 0, color: BG[k][0] }, { offset: 1, color: BG[k][1] },
        ]),
      })),
      xAxis: GRIDS.map((g, k) => ({
        type: 'value', gridIndex: k, min: xMin, max: xMax, show: k === 5,
        splitLine: { show: false },
        axisLine: { show: true, lineStyle: { color: '#7d8e9c' } },
        axisTick: { show: true, length: 4, customValues: monthT, lineStyle: { color: '#444' } },
        axisLabel: {
          customValues: monthT, margin: 6, fontSize: 13, color: '#222', fontFamily: FONT,
          showMinLabel: true, showMaxLabel: true,
          formatter: (v: number) => {
            const d = new Date(v);
            return d.getMonth() === 0 ? `{y|${d.getFullYear()}}` : MONTHS[d.getMonth()];
          },
          rich: { y: { fontWeight: 'bold', fontSize: 14, fontFamily: FONT, color: '#000' } },
        },
      })),
      yAxis: [
        yAx(0, [], [], [], plain),
        yAx(1, [10, 20, 30, 40, 50, 60, 70, 80, 90, 100], [10, 20, 30, 40, 50, 60, 70, 80, 90, 100], [50, 100], plain),
        yAx(2, [-600, -500, -400, -300, -200, -100, 0, 100, 200, 300, 400, 500], [-200, 0, 200, 400], [0], plain),
        yAx(3, [-200, -100, 0, 100, 200], [-200, -100, 0, 100, 200], [0], plain),
        yAx(4, [10, 20, 30, 40, 50, 60, 70, 80, 90, 100], [20, 40, 60, 80, 100], [100], plain),
        yAx(5, [-0.3, -0.2, -0.1, 0, 0.1, 0.2], [-0.2, -0.1, 0, 0.1, 0.2], [0], comma),
      ],
      series: [
        // ---- price panel ----
        line(0, price, '#111', 1, 'solid', 5, {
          markArea: {
            silent: true, itemStyle: { color: '#e2e9fb' },
            data: [[{ coord: [toTime(fibStart), fibLevels[0]] }, { coord: [lastT, fibBoxBottom] }]],
          },
          markLine: {
            silent: true, symbol: ['none', 'none'], label: { show: false },
            lineStyle: { color: '#000', width: 1.2, type: 'solid' },
            data: [
              [{ coord: [toTime(fibStart), fibLevels[0]] }, { coord: [xMax, fibLevels[0]] }],
              { yAxis: supportLevel },
              [{ coord: [toTime(fibStart), fibLevels[5]] }, { coord: [lastT, fibLevels[5]] }],
              [{ coord: [toTime(fibStart), fibBoxBottom] }, { coord: [lastT, fibBoxBottom] }],
              ...[1, 2, 3].map((j) => [
                { coord: [toTime(fibDotStart), fibLevels[j]], lineStyle: { type: [2, 2], width: 1, color: '#000' } },
                { coord: [lastT, fibLevels[j]] },
              ]),
            ],
          },
        }),
        slopeLine(0, priceMA200, '#3fd83f', '#ff3c3c', 3, 4, TM, 0.85),

        // ---- RSI ----
        band(1, R.v, 70, '#bb9598', null, 1, R.t),
        band(1, R.v, 30, null, '#98c2a0', 1, R.t),
        line(1, rsiMA, '#e85050', 1, 'solid', 3),
        line(1, R.v, '#111', 1, 'solid', 4, { markLine: hLines([70, 30]) }, R.t),

        // ---- MACD ----
        band(2, macdLine, macdSignal, '#a4e6ac', '#e6a6a8', 1),
        line(2, macdSignal, '#ea7272', 1, 'solid', 2),
        line(2, macdLine, '#2f3fe0', 1, 'solid', 2),
        band(2, macdHist, 0, greenStripe, redStripe, 3),
        slopeLine(2, macdHist, '#3cee3c', '#ff1414', 2.6, 4),
        line(2, macdHist.map(() => 0), 'rgba(0,0,0,0)', 0, 'solid', 5, { markLine: hLines([0]) }),

        // ---- CCI ----
        band(3, C.v, 100, '#c4a0a5', null, 1, C.t),
        band(3, C.v, -100, null, '#a0c8a9', 1, C.t),
        line(3, C.v, '#111', 1, 'solid', 4, { markLine: hLines([100, -100]) }, C.t),

        // ---- Stochastic ----
        band(4, KD.A, KD.B, '#9aa1e2', '#e6c2ca', 1, KD.xs),
        line(4, D.v, '#e86060', 1, [3, 2], 3, {}, D.t),
        line(4, K.v, '#111', 1, 'solid', 4, { markLine: hLines([80, 20]) }, K.t),

        // ---- TRIX ----
        band(5, trix, trixSignal, '#9aa1e2', '#e6c2ca', 1),
        line(5, trixSignal, '#e86060', 1, [3, 2], 3),
        line(5, trix, '#111', 1.3, 'solid', 4, { markLine: hLines([0]) }),
      ],
    };

    chart.setOption(option);

    const yPix = (k: number, v: number) => chart.convertToPixel({ yAxisIndex: k } as any, v) as unknown as number;
    const els: any[] = [];

    // header bar
    els.push({
      type: 'rect', z: 50, silent: true, shape: { x: 0, y: 0, width: 1600, height: 20 },
      style: {
        fill: new echarts.graphic.LinearGradient(0, 0, 0, 1, [{ offset: 0, color: '#dbe6ee' }, { offset: 1, color: '#bccfdb' }]),
        stroke: '#8a9cab', lineWidth: 1,
      },
    });
    els.push({ type: 'rect', z: 51, silent: true, shape: { x: 4, y: 5, width: 3, height: 10 }, style: { fill: '#2fbf2f', stroke: '#116611', lineWidth: 0.6 } });
    els.push({ type: 'line', z: 51, silent: true, shape: { x1: 5.5, y1: 2, x2: 5.5, y2: 18 }, style: { stroke: '#116611', lineWidth: 0.8 } });
    els.push({ type: 'rect', z: 51, silent: true, shape: { x: 10, y: 4, width: 3, height: 8 }, style: { fill: '#e03030', stroke: '#801010', lineWidth: 0.6 } });
    els.push({ type: 'line', z: 51, silent: true, shape: { x1: 11.5, y1: 2, x2: 11.5, y2: 15 }, style: { stroke: '#801010', lineWidth: 0.8 } });
    const headerTexts: [number, string][] = [
      [22, 'Hong Kong HS50 Cash (50HK)'], [190, 'Diario'], [226, '27.172,9 (-2,10%)'], [324, '12-jun-2019 12:47:14'],
    ];
    headerTexts.forEach(([x, t]) => els.push({
      type: 'text', z: 52, silent: true, x, y: 10.5,
      style: { text: t, fill: '#000', font: `11.5px ${FONT}`, verticalAlign: 'middle', align: 'left' },
    }));
    els.push({
      type: 'text', z: 52, silent: true, x: 1597, y: 10.5,
      style: { text: 'IT-Finance.com', fill: '#000', font: `11.5px ${FONT}`, verticalAlign: 'middle', align: 'right' },
    });

    // panel legend boxes
    const boxes: [number, number, number, number, string, string][] = [
      [1, 22, 35, 11, 'Precio', '#000'], [36, 22, 83, 11, 'MM (Simple 200)', '#3fcf3f'],
      [1, 65, 46, 13, 'RSI ( 14)', '#000'], [47, 65, 72, 13, 'MM (Simple 9)', '#e85858'],
      [1, 383, 128, 13, 'Línea MACD menos Señal', '#4ed04e'], [129, 383, 32, 13, 'Señal', '#e86a6a'],
      [161, 383, 108, 13, 'MACD Line ( 12 26 9)', '#2c3ed8'], [269, 383, 72, 13, 'MM (Simple 1)', '#ff2020'],
      [1, 601, 46, 13, 'CCI ( 20)', '#000'],
      [1, 794, 21, 13, '%K', '#000'], [22, 794, 66, 13, '%D ( 14 3 5)', '#e86a6a'],
      [1, 988, 26, 13, 'TRIX', '#000'], [27, 988, 67, 13, 'Señal ( 15 9)', '#e86a6a'],
    ];
    boxes.forEach(([x, y, w, h, t, c]) => {
      els.push({ type: 'rect', z: 60, silent: true, shape: { x: x + 0.5, y: y + 0.5, width: w, height: h }, style: { fill: '#a9bdcb', stroke: '#7b8f9d', lineWidth: 1 } });
      els.push({ type: 'text', z: 61, silent: true, x: x + 2, y: y + h / 2 + 1, style: { text: t, fill: c, font: `11px ${FONT}`, verticalAlign: 'middle' } });
    });

    // price panel annotations
    fibLevels.forEach((lv, j) => els.push({
      type: 'text', z: 40, silent: true, x: 636, y: yPix(0, lv) - 0.5,
      style: { text: fibTexts[j], fill: '#000', font: `11px ${FONT}`, verticalAlign: 'bottom' },
    }));
    els.push({ type: 'text', z: 40, silent: true, x: 2, y: yPix(0, supportLevel) - 0.5, style: { text: fmtPrice(supportLevel), fill: '#000', font: `11px ${FONT}`, verticalAlign: 'bottom' } });
    els.push({ type: 'text', z: 40, silent: true, x: 2, y: 59, style: { text: 'IT-Finance.com', fill: '#000', font: `11px ${FONT}`, verticalAlign: 'bottom' } });

    // value tags on the right axis
    type Tag = { k: number; v: number; text: string; color: string; bg?: string; bold?: boolean; y?: number; ty?: number };
    const tagGroups: { tags: Tag[]; s: number }[] = [
      { s: 10, tags: [
        { k: 0, v: priceTagLevels[0], text: fmtPrice(priceTagLevels[0]), color: '#e02a2a' },
        { k: 0, v: priceTagLevels[1], text: fmtPrice(priceTagLevels[1]), color: '#2fbf2f' },
        { k: 0, v: last(price), text: fmtPrice(last(price)), color: '#000', bg: '#f9c537', bold: true },
      ] },
      { s: 17, tags: [
        { k: 1, v: last(R.v), text: fmtDec(last(R.v), 3), color: '#000' },
        { k: 1, v: last(rsiMA), text: fmtDec(last(rsiMA), 3), color: '#e05050' },
      ] },
      { s: 15, tags: [
        { k: 2, v: last(macdHist), text: fmtDec(last(macdHist), 2), color: '#2fc02f' },
        { k: 2, v: last(macdHist), text: fmtDec(last(macdHist), 2), color: '#ff1a1a' },
        { k: 2, v: last(macdLine), text: fmtDec(last(macdLine), 2), color: '#2f3fe0' },
        { k: 2, v: last(macdSignal), text: fmtDec(last(macdSignal), 2), color: '#e06a6a' },
      ] },
      { s: 15, tags: [{ k: 3, v: last(C.v), text: fmtDec(last(C.v), 3), color: '#000' }] },
      { s: 15, tags: [
        { k: 4, v: last(K.v), text: fmtDec(last(K.v), 3), color: '#000' },
        { k: 4, v: last(D.v), text: fmtDec(last(D.v), 3), color: '#e05050' },
      ] },
      { s: 15, tags: [
        { k: 5, v: last(trix), text: fmtDec(last(trix), 4), color: '#000' },
        { k: 5, v: last(trixSignal), text: fmtDec(last(trixSignal), 4), color: '#e05050' },
      ] },
    ];
    tagGroups.forEach(({ tags, s }) => {
      tags.forEach((t) => { t.y = yPix(t.k, t.v); });
      const sorted = tags.slice().sort((a, b) => (a.y as number) - (b.y as number));
      const clusters: Tag[][] = [];
      sorted.forEach((t) => {
        const c = clusters[clusters.length - 1];
        if (c && (t.y as number) - (c[c.length - 1].y as number) < s) c.push(t); else clusters.push([t]);
      });
      clusters.forEach((c) => {
        const m = c.reduce((acc, t) => acc + (t.y as number), 0) / c.length;
        c.forEach((t, j) => { t.ty = m + (j - (c.length - 1) / 2) * s; });
      });
      tags.forEach((t) => {
        els.push({ type: 'line', z: 70, silent: true, shape: { x1: 1548, y1: t.y, x2: 1552, y2: t.y }, style: { stroke: t.color === '#000' ? '#333' : t.color, lineWidth: 1.2 } });
        els.push({
          type: 'text', z: 71, silent: true, x: 1552, y: t.ty,
          style: {
            text: t.text, fill: t.color, font: `${t.bold ? 'bold ' : ''}11px ${FONT}`,
            verticalAlign: 'middle', align: 'left',
            backgroundColor: t.bg || '#dfe7f1', borderColor: t.bg ? '#a88a2a' : '#6f8291', borderWidth: 1,
            padding: [1, 1, 0, 2],
          },
        });
      });
    });

    els.push({ type: 'rect', z: 30, silent: true, shape: { x: 0.5, y: 1176.5, width: 1599, height: 22.5 }, style: { fill: 'none', stroke: '#7d8e9c', lineWidth: 1 } });

    chart.setOption({ graphic: els });

    return () => { chart.dispose(); };
  }, []);

  return (
    <div
      ref={ref}
      style={{ position: 'absolute', left: 0, top: 0, width: 1600, height: 1200, background: '#ffffff' }}
    />
  );
}
